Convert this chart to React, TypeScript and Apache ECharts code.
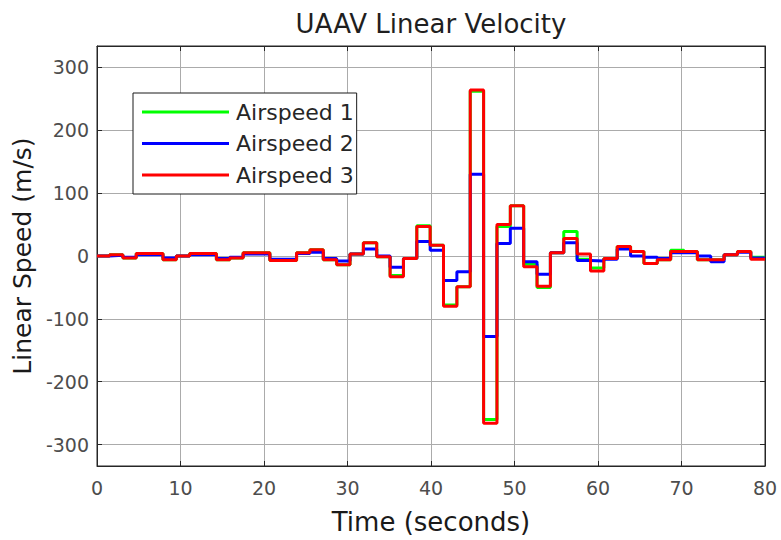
import React, { useEffect, useRef } from "react";
import * as echarts from "echarts";

// Sample instants (seconds) where the zero-order-hold value changes; last entry closes the plot at 80 s.
const sampleTimes = [
  0, 1.5, 3.1, 4.7, 6.3, 7.9, 9.5, 11.1, 12.7, 14.3, 15.9, 17.5, 19.1, 20.7, 22.3, 23.9, 25.5,
  27.1, 28.7, 30.3, 31.9, 33.5, 35.1, 36.7, 38.3, 39.9, 41.5, 43.1, 44.7, 46.3, 47.9, 49.5,
  51.1, 52.7, 54.3, 55.9, 57.5, 59.1, 60.7, 62.3, 63.9, 65.5, 67.1, 68.7, 70.3, 71.9, 73.5,
  75.1, 76.7, 78.3, 80,
];

const airspeed1 = [
  0, 2, -3, 4, 4, -6, 0, 4, 4, -6, -3, 5, 5, -7, -7, 5, 10, -6, -14, 3, 21, -1, -31, -4, 48,
  17, -78, -49, 262, -260, 47, 80, -13, -50, 5, 39, -5, -19, -4, 15, 7, -12, -6, 9, 7, -6, -6,
  2, 7, -2,
];

const airspeed2 = [
  0, 1, -2, 2, 2, -3, 0, 2, 2, -4, -2, 3, 3, -5, -5, 4, 6, -4, -8, 3, 11, 0, -18, -4, 23, 9,
  -39, -25, 130, -128, 20, 44, -9, -29, 5, 21, -7, -8, -5, 11, 0, -2, -4, 5, 5, 0, -9, 2, 6, -3,
];

const airspeed3 = [
  0, 2, -3, 4, 4, -6, 0, 4, 4, -6, -3, 5, 5, -7, -7, 5, 10, -6, -14, 3, 21, -1, -33, -4, 47,
  17, -80, -49, 264, -266, 50, 80, -17, -48, 5, 28, 3, -24, -4, 15, 7, -12, -6, 7, 7, -6, -6,
  2, 7, -5,
];

const seriesNames = ["Airspeed 1", "Airspeed 2", "Airspeed 3"];
const seriesColors = ["#00ff00", "#0000ff", "#ff0000"];
const xTickValues = [0, 10, 20, 30, 40, 50, 60, 70, 80];

const FONT = "DejaVu Sans";

function toPairs(values: number[]) {
  return sampleTimes.map((t, i) => [t, values[Math.min(i, values.length - 1)]]);
}

export default function App() {
  const ref = useRef<HTMLDivElement>(null);

  useEffect(() => {
    if (!ref.current) return;
    const chart = echarts.init(ref.current, undefined, { renderer: "svg" });
    const all = [airspeed1, airspeed2, airspeed3];

    const yAxisBase = {
      type: "value" as const,
      min: -334,
      max: 334,
      minInterval: 100,
      maxInterval: 100,
    };
    const xAxisBase = {
      type: "value" as const,
      min: xTickValues[0],
      max: xTickValues[xTickValues.length - 1],
      interval: 10,
    };
    const frameLine = { show: true, onZero: false, lineStyle: { color: "#262626", width: 1 } };
    const innerTick = { show: true, inside: true, length: 5, lineStyle: { color: "#262626" } };

    chart.setOption({
      animation: false,
      backgroundColor: "#ffffff",
      graphic: [
        {
          type: "text",
          x: 431,
          y: 24,
          style: {
            text: "UAAV Linear Velocity",
            fontFamily: FONT,
            fontSize: 26,
            fill: "#1f1f1f",
            textAlign: "center",
            textVerticalAlign: "middle",
          },
        },
      ],
      grid: {
        left: 97,
        right: 16,
        top: 46,
        bottom: 73,
        show: true,
        borderColor: "#262626",
        borderWidth: 1,
        backgroundColor: "#ffffff",
      },
      legend: {
        orient: "vertical",
        left: 133,
        top: 93,
        padding: [8, 3, 8, 9],
        itemWidth: 87,
        itemHeight: 22,
        itemGap: 9.5,
        borderColor: "#1a1a1a",
        borderWidth: 1,
        backgroundColor: "#ffffff",
        textStyle: { fontFamily: FONT, fontSize: 22, color: "#262626", padding: [0, 0, 0, 2] },
        data: seriesNames.map((n) => ({ name: n, icon: "path://M0,0 L87,0 L87,3 L0,3 Z" })),
      },
      xAxis: [
        {
          ...xAxisBase,
          position: "bottom",
          name: "Time (seconds)",
          nameLocation: "middle",
          nameGap: 43,
          nameTextStyle: { fontFamily: FONT, fontSize: 26, color: "#1a1a1a" },
          axisLine: frameLine,
          axisTick: innerTick,
          axisLabel: { fontFamily: FONT, fontSize: 19, color: "#4d4d4d", margin: 12 },
          splitLine: { show: true, lineStyle: { color: "#ababab", width: 1 } },
        },
        {
          ...xAxisBase,
          position: "top",
          axisLine: frameLine,
          axisTick: innerTick,
          axisLabel: { show: false },
          splitLine: { show: false },
        },
      ],
      yAxis: [
        {
          ...yAxisBase,
          position: "left",
          name: "Linear Speed (m/s)",
          nameLocation: "middle",
          nameGap: 57,
          nameTextStyle: { fontFamily: FONT, fontSize: 25, color: "#1a1a1a" },
          axisLine: frameLine,
          axisTick: innerTick,
          axisLabel: {
            fontFamily: FONT,
            fontSize: 19,
            color: "#4d4d4d",
            margin: 8,
            showMinLabel: false,
            showMaxLabel: false,
          },
          splitLine: { show: true, lineStyle: { color: "#ababab", width: 1 } },
        },
        {
          ...yAxisBase,
          position: "right",
          axisLine: frameLine,
          axisTick: innerTick,
          axisLabel: { show: false },
          splitLine: { show: false },
        },
      ],
      series: all.map((vals, i) => ({
        name: seriesNames[i],
        type: "line",
        step: "end",
        xAxisIndex: 0,
        yAxisIndex: 0,
        data: toPairs(vals),
        symbol: "none",
        color: seriesColors[i],
        lineStyle: { color: seriesColors[i], width: 3 },
        z: 2 + i,
      })),
    });

    return () => chart.dispose();
  }, []);

  return (
    <div
      ref={ref}
      style={{ position: "fixed", left: 0, top: 0, width: 781, height: 540, background: "#fff" }}
    />
  );
}
